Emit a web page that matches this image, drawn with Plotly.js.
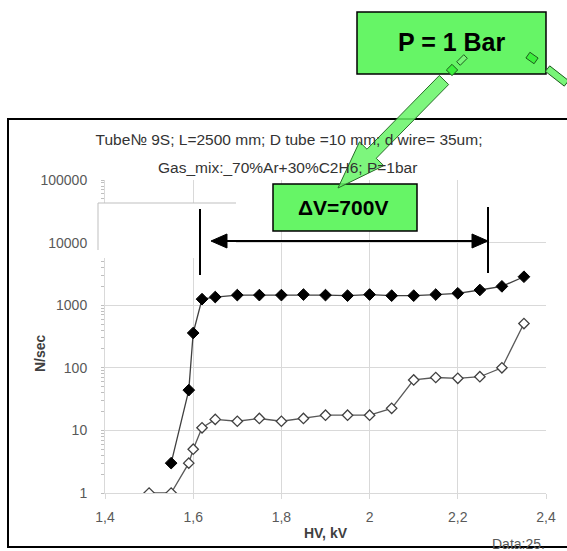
<!DOCTYPE html>
<html>
<head>
<meta charset="utf-8">
<script src="https://cdn.plot.ly/plotly-3.0.1.min.js"></script>
<style>html,body{margin:0;padding:0;background:#fff;}#chart{width:567px;height:551px;}</style>
</head>
<body>
<div id="chart"></div>
<script>
// ---- data ----
const hvFilled   = [1.55, 1.59, 1.60, 1.62, 1.65, 1.70, 1.75, 1.80, 1.85, 1.90, 1.95, 2.00, 2.05, 2.10, 2.15, 2.20, 2.25, 2.30, 2.35];
const rateFilled = [3, 44, 360, 1250, 1350, 1450, 1450, 1450, 1480, 1450, 1420, 1480, 1420, 1420, 1480, 1550, 1750, 2000, 2850];
const hvOpen     = [1.50, 1.55, 1.59, 1.60, 1.62, 1.65, 1.70, 1.75, 1.80, 1.85, 1.90, 1.95, 2.00, 2.05, 2.10, 2.15, 2.20, 2.25, 2.30, 2.35];
const rateOpen   = [1, 1, 3, 5, 11, 15, 14, 15.5, 14, 15.5, 17.5, 17.5, 17.5, 22.5, 64, 70, 68, 72, 100, 510];
const xTickVals  = [1.4, 1.6, 1.8, 2.0, 2.2, 2.4];
const xTickText  = ['1,4', '1,6', '1,8', '2', '2,2', '2,4'];
const yTickVals  = [1, 10, 100, 1000, 10000, 100000];
const yTickText  = ['1', '10', '100', '1000', '10000', '100000'];
const titleLine1 = 'Tube№ 9S; L=2500 mm; D tube =10 mm; d wire= 35um;';
const titleLine2 = 'Gas_mix:_70%Ar+30%C2H6; P=1bar';
const labelPressure = 'P = 1 Bar';
const labelDeltaV = 'ΔV=700V';
const labelData = 'Data:25.';

// ---- layout helpers (pixel -> paper) ----
const W = 567, H = 551;
const M = {l: 105, r: 21, t: 180, b: 58};
const PW = W - M.l - M.r, PH = H - M.t - M.b;
const P = px => (px - M.l) / PW;
const Q = py => (H - M.b - py) / PH;
const FONT = 'Liberation Sans, Arial, sans-serif';
const GREEN = 'rgb(102,245,102)';

function pathFromPx(pts) {
  return 'M ' + pts.map(p => P(p[0]).toFixed(5) + ',' + Q(p[1]).toFixed(5)).join(' L ') + ' Z';
}
function rrect(cx, cy, w, h, deg) {
  const a = deg * Math.PI / 180, c = Math.cos(a), s = Math.sin(a);
  const corners = [[-w/2,-h/2],[w/2,-h/2],[w/2,h/2],[-w/2,h/2]];
  return pathFromPx(corners.map(([x,y]) => [cx + x*c - y*s, cy + x*s + y*c]));
}
function blockArrow(tail, tip, shaftHalf, headLen, headHalf) {
  const dx = tip[0]-tail[0], dy = tip[1]-tail[1], L = Math.hypot(dx,dy);
  const u = [dx/L, dy/L], n = [-u[1], u[0]];
  const base = [tip[0]-headLen*u[0], tip[1]-headLen*u[1]];
  const pt = (o, k) => [o[0]+k*n[0], o[1]+k*n[1]];
  return pathFromPx([pt(tail, shaftHalf), pt(base, shaftHalf), pt(base, headHalf), tip,
                     pt(base, -headHalf), pt(base, -shaftHalf), pt(tail, -shaftHalf)]);
}
const pxLine = (x0,y0,x1,y1,color,width) => ({type:'line', xref:'paper', yref:'paper',
  x0:P(x0), y0:Q(y0), x1:P(x1), y1:Q(y1), line:{color:color, width:width}, layer:'above'});

const traces = [
  {x: hvFilled, y: rateFilled, type: 'scatter', mode: 'lines+markers', name: 'filled',
   line: {color: '#404040', width: 1.3},
   marker: {symbol: 'diamond', size: 9, color: '#000000', line: {color: '#000000', width: 1}}},
  {x: hvOpen, y: rateOpen, type: 'scatter', mode: 'lines+markers', name: 'open',
   line: {color: '#595959', width: 1.3},
   marker: {symbol: 'diamond', size: 8, color: '#ffffff', line: {color: '#404040', width: 1.3}}}
];

const shapes = [
  // outer chart border
  {type:'rect', xref:'paper', yref:'paper', x0:P(8), x1:P(580), y0:Q(547), y1:Q(119),
   line:{color:'#000', width:2}, fillcolor:'rgba(0,0,0,0)', layer:'above'},
  // white patch with grey edges (left over box)
  {type:'rect', xref:'paper', yref:'paper', x0:P(98), x1:P(236), y0:Q(258), y1:Q(203),
   line:{width:0}, fillcolor:'#ffffff', layer:'above'},
  pxLine(98,203,236,203,'#bfbfbf',1),
  pxLine(98,203,98,250,'#bfbfbf',1),
  // delta V markers
  pxLine(200,209,200,275,'#000',2),
  pxLine(488,207,488,273,'#000',2),
  pxLine(222,241,477,241,'#000',2),
  {type:'path', xref:'paper', yref:'paper', path: pathFromPx([[211,241],[227,234],[227,248]]),
   fillcolor:'#000', line:{color:'#000', width:1}, layer:'above'},
  {type:'path', xref:'paper', yref:'paper', path: pathFromPx([[488,241],[472,234],[472,248]]),
   fillcolor:'#000', line:{color:'#000', width:1}, layer:'above'},
  // green boxes
  {type:'rect', xref:'paper', yref:'paper', x0:P(357), x1:P(546), y0:Q(74), y1:Q(12),
   line:{color:'#000', width:1.5}, fillcolor:GREEN, layer:'above'},
  {type:'rect', xref:'paper', yref:'paper', x0:P(273), x1:P(417), y0:Q(231), y1:Q(184),
   line:{color:'#000', width:1.5}, fillcolor:GREEN, layer:'above'},
  // green block arrow
  {type:'path', xref:'paper', yref:'paper', path: blockArrow([444,80],[338,188],6.5,48,17),
   fillcolor:'rgba(102,245,102,0.85)', line:{color:'rgb(40,110,40)', width:1}, layer:'above'},
  // selection handles
  {type:'path', xref:'paper', yref:'paper', path: rrect(452,70,8,8,45),
   fillcolor:'rgb(60,240,60)', line:{color:'rgb(30,90,30)', width:1}, layer:'above'},
  {type:'path', xref:'paper', yref:'paper', path: rrect(462,60,10,5,-45),
   fillcolor:'rgb(120,245,120)', line:{color:'rgb(30,90,30)', width:1}, layer:'above'},
  {type:'path', xref:'paper', yref:'paper', path: rrect(532,58,10,7,35),
   fillcolor:'rgb(60,240,60)', line:{color:'rgb(30,90,30)', width:1}, layer:'above'},
  {type:'path', xref:'paper', yref:'paper', path: rrect(557,76,24,7,38),
   fillcolor:'rgb(120,245,120)', line:{color:'rgb(30,90,30)', width:1}, layer:'above'}
];

const annotations = [
  {text: titleLine2, xref:'paper', yref:'paper', x:P(287), y:Q(168), xanchor:'center', yanchor:'middle',
   showarrow:false, font:{family:FONT, size:15.5, color:'#333'}},
  {text: '<b>N/sec</b>', xref:'paper', yref:'paper', x:P(40), y:Q(353), textangle:-90,
   xanchor:'center', yanchor:'middle', showarrow:false, font:{family:FONT, size:14, color:'#404040'}},
  {text: labelData, xref:'paper', yref:'paper', x:P(490), y:Q(544), xanchor:'left', yanchor:'middle',
   showarrow:false, font:{family:FONT, size:14, color:'#595959'}},
  {text: '<b>' + labelPressure + '</b>', xref:'paper', yref:'paper', x:P(452), y:Q(42),
   xanchor:'center', yanchor:'middle', showarrow:false, font:{family:FONT, size:25, color:'#000'}},
  {text: '<b>' + labelDeltaV + '</b>', xref:'paper', yref:'paper', x:P(343), y:Q(207),
   xanchor:'center', yanchor:'middle', showarrow:false, font:{family:FONT, size:21, color:'#000'}}
];

const layout = {
  width: W, height: H,
  margin: M,
  paper_bgcolor: '#fff', plot_bgcolor: '#fff',
  showlegend: false,
  title: {text: titleLine1, x: 289 / W, xanchor: 'center', xref: 'container',
          y: 1 - 140 / H, yanchor: 'middle', yref: 'container',
          font: {family: FONT, size: 15.5, color: '#333'}},
  xaxis: {range: [1.4, 2.4], tickmode: 'array', tickvals: xTickVals, ticktext: xTickText,
          showgrid: true, gridcolor: '#d9d9d9', gridwidth: 1,
          showline: true, linecolor: '#d9d9d9', linewidth: 1, zeroline: false,
          ticks: 'outside', ticklen: 5, tickcolor: '#d9d9d9', ticklabelstandoff: 6,
          tickfont: {family: FONT, size: 14, color: '#595959'},
          title: {text: '<b>HV, kV</b>', standoff: 4, font: {family: FONT, size: 14, color: '#404040'}}},
  yaxis: {type: 'log', range: [0, 5], tickmode: 'array', tickvals: yTickVals, ticktext: yTickText,
          showgrid: true, gridcolor: '#d9d9d9', gridwidth: 1,
          showline: true, linecolor: '#d9d9d9', linewidth: 1, zeroline: false,
          ticks: '', ticklabelstandoff: 14,
          minor: {ticks: 'outside', ticklen: 3, tickcolor: '#bfbfbf', dtick: 'D1', showgrid: false},
          tickfont: {family: FONT, size: 14, color: '#595959'}},
  shapes: shapes,
  annotations: annotations
};

Plotly.newPlot('chart', traces, layout, {displayModeBar: false, staticPlot: true});
</script>
</body>
</html>
